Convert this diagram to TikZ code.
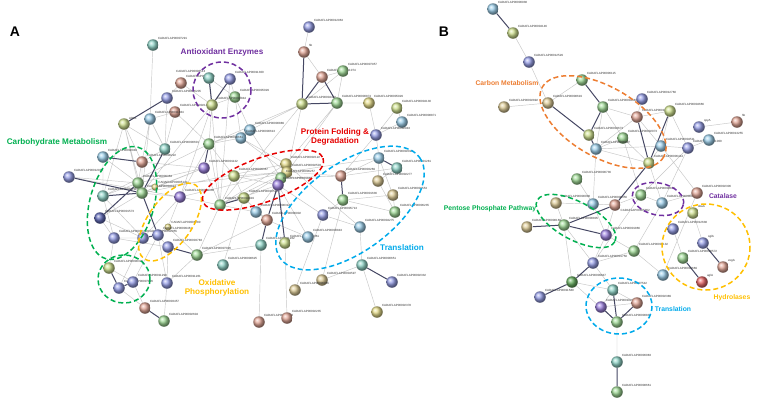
\documentclass[tikz,border=0pt]{standalone}
\usepackage{fontspec}
\setmainfont{Liberation Sans}
\usetikzlibrary{backgrounds}

\definecolor{sgreen}{RGB}{140,212,128}
\definecolor{steal}{RGB}{120,206,190}
\definecolor{sblue}{RGB}{128,138,228}
\definecolor{slblue}{RGB}{135,198,232}
\definecolor{ssalmon}{RGB}{222,148,128}
\definecolor{syg}{RGB}{198,220,118}
\definecolor{stan}{RGB}{216,194,128}
\definecolor{sred}{RGB}{230,70,70}
\definecolor{spurple}{RGB}{138,104,220}
\definecolor{syellow}{RGB}{226,214,112}
\definecolor{sdgreen}{RGB}{70,160,60}
\definecolor{sdblue}{RGB}{60,72,170}
\definecolor{cpurple}{RGB}{112,48,160}
\definecolor{cgreen}{RGB}{0,176,80}
\definecolor{cred}{RGB}{230,0,0}
\definecolor{ccyan}{RGB}{0,170,235}
\definecolor{cgold}{RGB}{255,192,0}
\definecolor{corange}{RGB}{237,125,49}

\tikzset{
  prot/.style={circle, inner sep=0pt, minimum size=11.5bp, ball color=#1!80!white},
  lbl/.style={font=\fontsize{3}{3.5}\selectfont, inner sep=0.6bp, text=black!80},
  edge/.style={draw=black!22, line width=0.45bp},
  sedge/.style={draw={rgb,255:red,70;green,72;blue,100}, line width=1bp},
  ring/.style={line width=1.5bp, dash pattern=on 5bp off 3bp},
  grp/.style={font=\bfseries\fontsize{8.2}{9.6}\selectfont, align=center},
  grpb/.style={font=\bfseries\fontsize{6.8}{8}\selectfont, align=center},
}
\newcommand{\prt}[5][45]{\node[prot=#4, label={[lbl]#1:#5}] (#2) at (#3) {};}

\begin{document}
\begin{tikzpicture}[x=1bp, y=-1bp]
\useasboundingbox (0,0) rectangle (760,401);

% panel A
\node[font=\bfseries\fontsize{14}{14}\selectfont] (pa) at (15,32) {A};
\prt{a1}{153,45}{steal}{CADAFLAP00007291}
\prt{a2}{181,83}{ssalmon}{CADAFLAP00003481}
\prt{a3}{167,98}{sblue}{CADAFLAP00006205}
\prt{a4}{175,112}{ssalmon}{CADAFLAP00002148}
\prt{a5}{150,119}{slblue}{CADAFLAP00011834}
\prt{a6}{124,124}{syg}{ADK1}
\prt[120]{a7}{209,78}{steal}{CADAFLAP00006513}
\prt{a8}{230,79}{sblue}{CADAFLAP00011300}
\prt{a9}{235,97}{sgreen}{CADAFLAP00005029}
\prt{a10}{212,105}{syg}{CADAFLAP00004844}
\prt{a11}{309,27}{sblue}{CADAFLAP00012963}
\prt{a12}{304,52}{ssalmon}{hb}
\prt{a13}{322,77}{ssalmon}{CADAFLAP00011074}
\prt{a14}{343,71}{sgreen}{CADAFLAP00007957}
\prt{a15}{302,104}{syg}{CADAFLAP00004402}
\prt{a16}{337,103}{sgreen}{CADAFLAP00000874}
\prt{a17}{369,103}{syellow}{CADAFLAP00005929}
\prt{a18}{397,108}{syg}{CADAFLAP00004130}
\prt{a19}{402,122}{slblue}{CADAFLAP00008871}
\prt{a20}{376,135}{sblue}{CADAFLAP00002943}
\prt{a21}{250,130}{slblue}{CADAFLAP00000889}
\prt{a22}{241,138}{slblue}{CADAFLAP00000613}
\prt{a23}{165,149}{steal}{CADAFLAP00000601}
\prt{a24}{103,157}{slblue}{CADAFLAP00002040}
\prt{a25}{142,162}{ssalmon}{CADAFLAP00000222}
\prt{a26}{69,177}{sblue}{CADAFLAP00012936}
\prt{a27}{138,183}{sgreen}{CADAFLAP00000364}
\prt{a28}{142,193}{sgreen}{CADAFLAP00004813}
\node[prot=syellow, minimum size=7bp, label={[lbl]45:CADAFLAP00005142}] (a29) at (155,187) {};
\prt{a30}{103,196}{steal}{CADAFLAP00004211}
\prt{a31}{100,218}{sdblue}{CADAFLAP00001573}
\prt{a32}{180,197}{spurple}{CADAFLAP00008336}
\node[prot=syellow, minimum size=7bp, label={[lbl]45:CADAFLAP00006780}] (a33) at (168,227) {};
\prt{a34}{114,238}{sblue}{CADAFLAP00000448}
\prt{a35}{143,238}{sblue}{CADAFLAP00002955}
\prt{a36}{158,235}{sblue}{CADAFLAP00009461}
\prt{a37}{168,247}{sblue}{CADAFLAP00003783}
\prt{a38}{197,255}{sgreen}{CADAFLAP00007026}
\prt{a39}{209,144}{sgreen}{CADAFLAP00000661}
\prt{a40}{204,168}{spurple}{CADAFLAP00001122}
\prt{a41}{234,176}{syg}{CADAFLAP00009367}
\prt{a42}{244,198}{syg}{CADAFLAP00010528}
\prt{a43}{220,205}{sgreen}{CADAFLAP00004419}
\prt{a44}{256,212}{slblue}{CADAFLAP00008312}
\prt{a45}{267,220}{ssalmon}{CADAFLAP00006902}
\prt{a46}{286,164}{syellow}{CADAFLAP00002122}
\prt{a47}{287,172}{syellow}{CADAFLAP00002503}
\prt{a48}{281,178}{sgreen}{CADAFLAP00006257}
\prt{a49}{278,185}{spurple}{CADAFLAP00001848}
\prt{a50}{261,245}{steal}{CADAFLAP00011262}
\prt{a51}{285,243}{syg}{CADAFLAP00008961}
\prt{a52}{308,237}{slblue}{CADAFLAP00000843}
\prt{a53}{223,265}{steal}{CADAFLAP00008625}
\prt{a54}{341,176}{ssalmon}{CADAFLAP00003269}
\prt{a55}{343,200}{sgreen}{CADAFLAP00001636}
\prt{a56}{323,215}{sblue}{CADAFLAP00005713}
\prt{a57}{360,227}{slblue}{CADAFLAP00004275}
\prt{a58}{379,158}{slblue}{CADAFLAP00002022}
\prt{a59}{397,168}{steal}{CADAFLAP00001281}
\prt{a60}{378,181}{stan}{CADAFLAP00002277}
\prt{a61}{393,195}{stan}{CADAFLAP00002553}
\prt{a62}{395,212}{sgreen}{CADAFLAP00006235}
\prt{a63}{362,265}{steal}{CADAFLAP00000651}
\prt{a64}{392,282}{sblue}{CADAFLAP00002332}
\prt{a65}{377,312}{syellow}{CADAFLAP00002378}
\prt{a66}{322,280}{stan}{CADAFLAP00004597}
\prt{a67}{295,290}{stan}{CADAFLAP00006065}
\prt{a68}{259,322}{ssalmon}{CADAFLAP00002273}
\prt{a69}{287,318}{ssalmon}{CADAFLAP00002235}
\prt{a70}{109,268}{syg}{CADAFLAP00000321}
\prt{a71}{119,288}{sblue}{CADAFLAP00007826}
\prt{a72}{133,282}{sblue}{CADAFLAP00011299}
\prt{a73}{167,283}{sblue}{CADAFLAP00011261}
\prt{a74}{145,308}{ssalmon}{CADAFLAP00003457}
\prt{a75}{164,321}{sgreen}{CADAFLAP00002604}

% panel B
\node[font=\bfseries\fontsize{14}{14}\selectfont] (pb) at (444,32) {B};
\prt{b1}{493,9}{slblue}{CADAFLAP00000938}
\prt{b2}{513,33}{syg}{CADAFLAP00004146}
\prt{b3}{529,62}{sblue}{CADAFLAP00012529}
\prt{b4}{582,80}{sgreen}{CADAFLAP00006115}
\prt{b5}{548,103}{stan}{CADAFLAP00008619}
\prt{b6}{504,107}{stan}{CADAFLAP00002892}
\prt{b7}{603,107}{sgreen}{CADAFLAP00004483}
\prt{b8}{642,99}{sblue}{CADAFLAP00012760}
\prt{b9}{637,117}{ssalmon}{CADAFLAP00010817}
\prt{b10}{670,111}{syg}{CADAFLAP00004666}
\prt{b11}{589,135}{syg}{CADAFLAP00004673}
\prt{b12}{623,138}{sgreen}{CADAFLAP00002073}
\prt{b13}{596,149}{slblue}{CADAFLAP00009807}
\prt{b14}{661,146}{slblue}{CADAFLAP00004511}
\prt{b15}{649,163}{syg}{CADAFLAP00006414}
\prt{b16}{688,148}{sblue}{CADAFLAP00011000}
\prt{b17}{709,140}{slblue}{CADAFLAP00013255}
\prt{b18}{699,127}{sblue}{spyA}
\prt{b19}{737,122}{ssalmon}{hb}
\prt{b20}{577,179}{sgreen}{CADAFLAP00000736}
\prt{b21}{593,204}{slblue}{CADAFLAP00008356}
\prt[-35]{b22}{615,205}{ssalmon}{CADAFLAP00005902}
\prt{b23}{641,195}{sgreen}{CADAFLAP00008831}
\prt{b24}{662,203}{slblue}{CADAFLAP00000924}
\prt{b25}{697,193}{ssalmon}{CADAFLAP00002306}
\prt{b26}{693,213}{syg}{sbaA}
\prt{b27}{556,203}{stan}{CADAFLAP00000008}
\prt{b28}{564,225}{sgreen}{CADAFLAP00000805}
\prt{b29}{527,227}{stan}{CADAFLAP00008160}
\prt{b30}{606,235}{spurple}{CADAFLAP00001866}
\prt{b31}{593,263}{sblue}{CADAFLAP00001750}
\prt{b32}{572,282}{sdgreen}{CADAFLAP00009847}
\prt{b33}{540,297}{sblue}{CADAFLAP00011580}
\prt{b34}{613,290}{steal}{CADAFLAP00007542}
\prt{b35}{601,307}{spurple}{CADAFLAP00010277}
\prt{b36}{617,322}{sgreen}{CADAFLAP00000834}
\prt{b37}{637,303}{ssalmon}{CADAFLAP00002389}
\prt{b38}{617,362}{steal}{CADAFLAP00006083}
\prt{b39}{617,392}{sgreen}{CADAFLAP00008661}
\prt{b40}{634,251}{sgreen}{CADAFLAP00008132}
\prt{b41}{663,275}{slblue}{CADAFLAP00008669}
\prt{b42}{673,229}{sblue}{CADAFLAP00012638}
\prt{b43}{703,243}{sblue}{sglA}
\prt{b44}{683,258}{sgreen}{CADAFLAP00000572}
\prt{b45}{723,267}{ssalmon}{exgA}
\prt{b46}{702,282}{sred}{aglA}

% groups
\draw[ring, cpurple] (222,90) ellipse [x radius=29, y radius=28];
\node[grp, text=cpurple] (ttox) at (222,52) {Antioxidant Enzymes};
\draw[ring, cgreen, rotate around={-16:(122,203)}] (122,203) ellipse [x radius=32, y radius=58];
\node[grp, text=cgreen] (tcarb) at (57,142) {Carbohydrate Metabolism};
\draw[ring, cgreen] (124,279) ellipse [x radius=26, y radius=24];
\draw[ring, cgold, rotate around={-35:(170,222)}] (170,222) ellipse [x radius=22, y radius=45];
\node[grp, text=cgold] (toxp) at (217,288) {Oxidative\\Phosphorylation};
\draw[ring, cred, rotate around={20:(263,180)}] (263,180) ellipse [x radius=64, y radius=22];
\node[grp, text=cred] (tprot) at (335,137) {Protein Folding \&\\Degradation};
\draw[ring, ccyan, rotate around={36:(350,208)}] (350,208) ellipse [x radius=86, y radius=44];
\node[grp, text=ccyan] (ttra) at (402,248) {Translation};

\draw[ring, corange, rotate around={-30:(603,122)}] (603,122) ellipse [x radius=70, y radius=35];
\node[grpb, text=corange] (tcm) at (507,83) {Carbon Metabolism};
\draw[ring, cgreen, rotate around={-28:(576,221)}] (576,221) ellipse [x radius=44, y radius=19];
\node[grpb, text=cgreen] (tppp) at (490,209) {Pentose Phosphate Pathway};
\draw[ring, cpurple, rotate around={-12:(658,199)}] (658,199) ellipse [x radius=26, y radius=16];
\node[grpb, text=cpurple] (tcat) at (723,196) {Catalase};
\draw[ring, cgold] (706,247) ellipse [x radius=44, y radius=43];
\node[grpb, text=cgold] (thyd) at (732,298) {Hydrolases};
\draw[ring, ccyan] (619,306) ellipse [x radius=33, y radius=28];
\node[grpb, text=ccyan] (ttrb) at (673,309) {Translation};

\begin{pgfonlayer}{background}
\fill[white] (0,0) rectangle (760,401);
\draw[edge] (a1)--(a5) (a2)--(a3) (a4)--(a5) (a4)--(a39) (a5)--(a23) (a5)--(a28)
  (a6)--(a25) (a6)--(a27) (a6)--(a28) (a6)--(a30) (a5)--(a27) (a7)--(a9) (a8)--(a9)
  (a9)--(a10) (a10)--(a28) (a10)--(a32) (a10)--(a39) (a7)--(a43) (a8)--(a43)
  (a9)--(a21) (a9)--(a22) (a11)--(a12) (a12)--(a13) (a13)--(a14) (a14)--(a15)
  (a14)--(a16) (a16)--(a17) (a15)--(a39) (a15)--(a43) (a15)--(a47) (a16)--(a49)
  (a16)--(a46) (a17)--(a20) (a18)--(a19) (a18)--(a20) (a19)--(a20) (a20)--(a58)
  (a20)--(a54) (a54)--(a58) (a55)--(a56) (a56)--(a57) (a54)--(a48) (a54)--(a47)
  (a58)--(a60) (a58)--(a61) (a60)--(a59) (a61)--(a62) (a60)--(a62) (a23)--(a25)
  (a24)--(a27) (a25)--(a27) (a25)--(a28) (a26)--(a27) (a27)--(a30) (a28)--(a29)
  (a28)--(a32) (a30)--(a34) (a30)--(a35) (a31)--(a34) (a31)--(a28) (a34)--(a35)
  (a34)--(a37) (a36)--(a37) (a35)--(a71) (a34)--(a70) (a36)--(a72) (a37)--(a73)
  (a70)--(a72) (a72)--(a74) (a71)--(a74) (a73)--(a36) (a73)--(a75) (a73)--(a38)
  (a32)--(a33) (a32)--(a43) (a33)--(a36) (a33)--(a38) (a38)--(a43) (a38)--(a50)
  (a43)--(a39) (a43)--(a41) (a43)--(a44) (a43)--(a49) (a43)--(a46) (a43)--(a47)
  (a41)--(a42) (a41)--(a47) (a42)--(a45) (a44)--(a45) (a49)--(a47) (a48)--(a47)
  (a46)--(a57) (a47)--(a58) (a39)--(a41) (a39)--(a21) (a39)--(a22) (a21)--(a22)
  (a22)--(a47) (a21)--(a48) (a40)--(a29) (a40)--(a28) (a40)--(a43) (a53)--(a42)
  (a50)--(a68) (a51)--(a69) (a52)--(a45) (a52)--(a49) (a56)--(a49) (a57)--(a63)
  (a63)--(a65) (a63)--(a66) (a67)--(a56) (a66)--(a55) (a32)--(a47) (a29)--(a47)
  (a28)--(a46) (a27)--(a40) (a25)--(a40) (a24)--(a30) (a31)--(a35) (a62)--(a55)
  (a59)--(a54) (a61)--(a55) (a3)--(a23) (a6)--(a23) (a2)--(a10) (a4)--(a23)
  (a30)--(a39) (a26)--(a32) (a32)--(a39) (a35)--(a32) (a42)--(a47) (a41)--(a49)
  (a44)--(a48) (a45)--(a48) (a38)--(a45) (a21)--(a15) (a22)--(a46);
\draw[sedge] (a3)--(a6) (a7)--(a10) (a8)--(a10) (a12)--(a15) (a13)--(a15)
  (a13)--(a16) (a15)--(a16) (a24)--(a25) (a26)--(a28) (a30)--(a28) (a27)--(a31)
  (a37)--(a38) (a74)--(a75) (a54)--(a55) (a43)--(a42) (a45)--(a50) (a45)--(a49)
  (a49)--(a51) (a70)--(a71) (a71)--(a72) (a59)--(a58) (a63)--(a64) (a35)--(a36)
  (a39)--(a40) (a23)--(a28) (a27)--(a36);
\draw[edge] (b2)--(b3) (b3)--(b5) (b4)--(b5) (b6)--(b5) (b7)--(b9) (b7)--(b12)
  (b7)--(b13) (b9)--(b8) (b9)--(b10) (b9)--(b13) (b9)--(b14) (b11)--(b13)
  (b12)--(b13) (b12)--(b15) (b13)--(b14) (b13)--(b15) (b14)--(b15) (b10)--(b14)
  (b14)--(b16) (b16)--(b17) (b18)--(b19) (b14)--(b25) (b16)--(b24) (b16)--(b23)
  (b13)--(b21) (b20)--(b21) (b21)--(b22) (b22)--(b23) (b23)--(b24) (b24)--(b25)
  (b27)--(b28) (b27)--(b21) (b21)--(b30) (b22)--(b30) (b30)--(b31) (b28)--(b31)
  (b32)--(b34) (b31)--(b34) (b32)--(b36) (b34)--(b35) (b34)--(b37) (b35)--(b37)
  (b36)--(b38) (b31)--(b40) (b40)--(b30) (b40)--(b41) (b41)--(b25) (b42)--(b44)
  (b43)--(b26) (b23)--(b31) (b24)--(b40) (b28)--(b32) (b15)--(b24) (b12)--(b23)
  (b10)--(b16);
\draw[sedge] (b1)--(b2) (b4)--(b7) (b5)--(b11) (b9)--(b15) (b15)--(b22)
  (b22)--(b28) (b28)--(b29) (b28)--(b30) (b31)--(b32) (b32)--(b33) (b34)--(b36)
  (b35)--(b36) (b36)--(b37) (b38)--(b39) (b44)--(b46) (b43)--(b45) (b7)--(b11)
  (b10)--(b15) (b11)--(b13);
\end{pgfonlayer}
\end{tikzpicture}
\end{document}
